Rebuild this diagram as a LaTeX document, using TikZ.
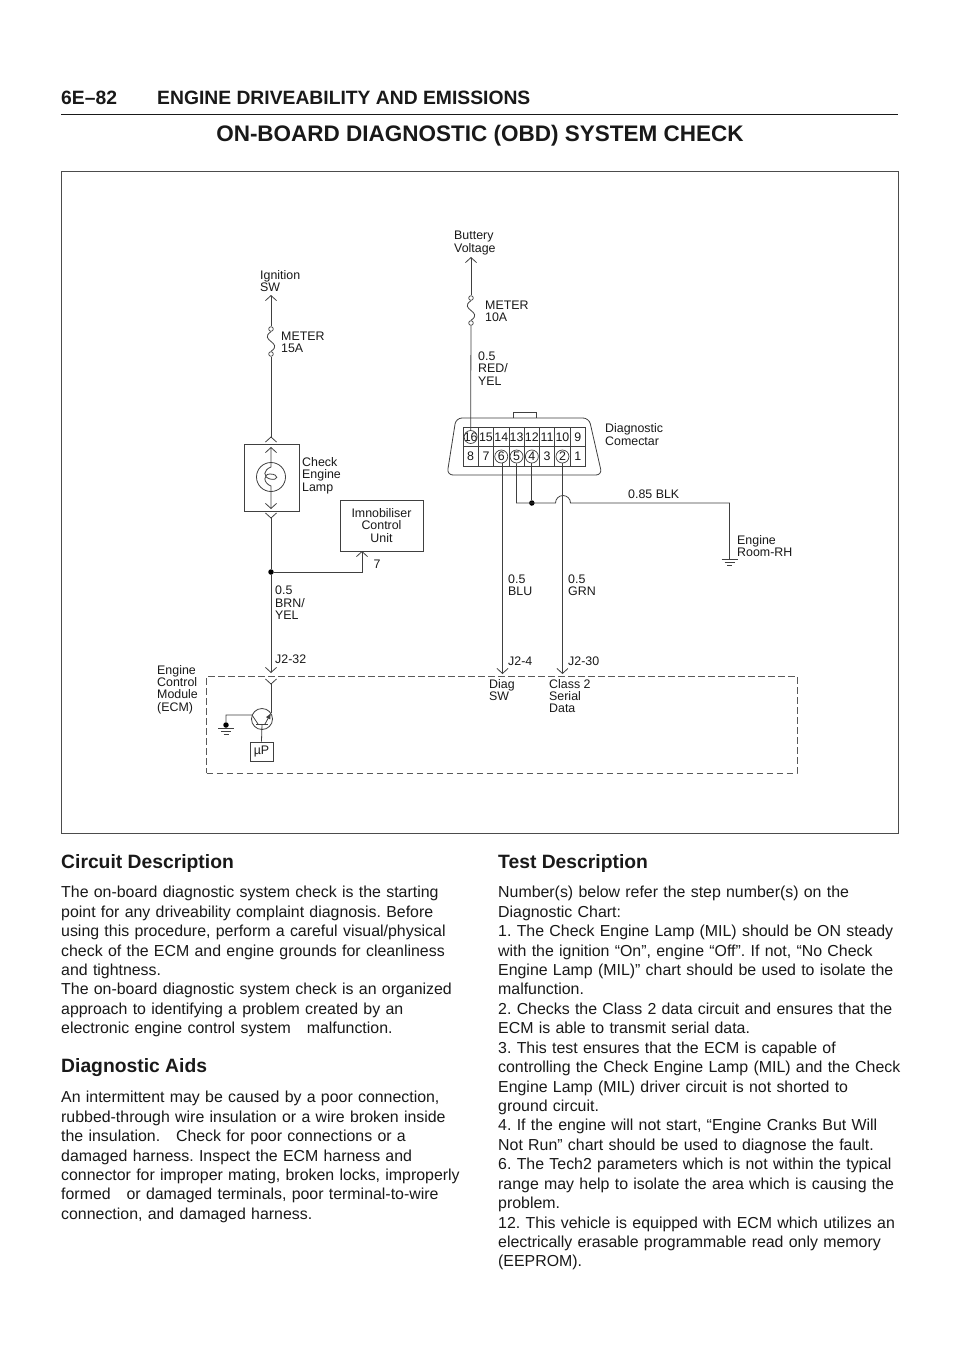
\documentclass[tikz,border=0pt]{standalone}
\usepackage{fontspec}
\setmainfont{Liberation Sans}
\usetikzlibrary{arrows.meta,shapes.geometric}
\newcommand{\jl}[1]{\makebox[\hsize][s]{#1}}
\tikzset{
    wire/.style={line width=0.8pt,draw=black!75},
    tipend/.style={wire,-{Straight Barb[length=5pt,width=11pt]}},
    tipboth/.style={wire,{Straight Barb[length=5pt,width=11pt]}-{Straight Barb[length=5pt,width=11pt]}},
    lbl/.style={anchor=west,align=left,inner sep=0pt,text=black!90,font=\fontsize{12.4}{12.4}\selectfont},
    centrelbl/.style={lbl,anchor=center,align=center},
    unitbox/.style={draw=black!75,line width=0.8pt,inner sep=0pt},
    pincell/.style={unitbox,minimum width=15.3pt,minimum height=19.5pt,font=\fontsize{12.4}{12.4}\selectfont,text=black!90},
    pinring/.style={circle,draw=black!75,line width=0.7pt,minimum size=13pt,inner sep=0pt},
    fuseend/.style={circle,draw=black!75,line width=0.7pt,fill=white,minimum size=4.6pt,inner sep=0pt},
    joint/.style={circle,fill=black,minimum size=5.5pt,inner sep=0pt},
    headline/.style={anchor=west,inner sep=0pt,font=\bfseries\fontsize{19.3}{22}\selectfont,text=black!90},
    bodytext/.style={anchor=north west,align=left,inner sep=0pt,text width=398pt,text=black!90,font=\fontsize{15.9}{19.43}\selectfont\frenchspacing},
    ground/.pic={\draw[wire,line width=0.6pt] (-8,0) -- (8,0) (-5,3.5) -- (5,3.5) (-2.5,6.5) -- (2.5,6.5);},
    chevup/.pic={\draw[wire] (-5.5,5) -- (0,0) -- (5.5,5);},
    chevdown/.pic={\draw[wire] (-5.5,-5) -- (0,0) -- (5.5,-5);}
}
\begin{document}
\begin{tikzpicture}[x=1pt,y=-1pt]
    \useasboundingbox[fill=white] (0,0) rectangle (960,1358);
    \node[headline] (pagenum) at (61,97.5) {6E–82};
    \node[headline] (pagehead) at (157,97.5) {ENGINE DRIVEABILITY AND EMISSIONS};
    \draw[line width=1.4pt,black!90] (61,114.5) -- (898,114.5);
    \node[font=\bfseries\fontsize{22.5}{26}\selectfont,text=black!90,inner sep=0pt] (title) at (480,136) {ON-BOARD DIAGNOSTIC (OBD) SYSTEM CHECK};
    \draw[line width=0.9pt,black!70] (61,171.5) rectangle (898,833);

    \node[lbl] (ignlbl) at (260,281) {Ignition\\SW};
    \coordinate (igntip) at (271,295);
    \node[fuseend] (ignfusea) at (271,329) {};
    \node[fuseend] (ignfuseb) at (271,354) {};
    \node[lbl] (ignfuselbl) at (281,342) {METER\\15A};
    \coordinate (lampin) at (271,437);
    \draw[tipend] (ignfusea) -- (igntip);
    \draw[wire] (ignfusea.south) .. controls +(-13,9) and +(13,-9) .. (ignfuseb.north);
    \draw[wire] (ignfuseb) -- (lampin);
    \pic at (lampin) {chevup};

    \node[unitbox,minimum width=55pt,minimum height=67pt] (lampbox) at (271.5,477.5) {};
    \node[circle,draw=black!75,line width=0.8pt,minimum size=29pt,inner sep=0pt] (lamp) at (271,477) {};
    \coordinate (lamptop) at (271,447);
    \coordinate (lampbot) at (271,509);
    \draw[tipboth] (lamptop) -- (271,467) .. controls (263,470) and (263,477) .. (270,479) .. controls (279,481) and (279,474) .. (270,474) .. controls (263,474) and (263,483) .. (271,486) -- (lampbot);
    \node[lbl] (lamplbl) at (302,475.5) {Check\\Engine\\Lamp};

    \node[unitbox,minimum width=83pt,minimum height=51pt] (immo) at (381.5,525.5) {};
    \node[centrelbl] (immolbl) at (immo) {Imnobiliser\\Control\\Unit};
    \node[lbl] (immopin) at (373.5,564.5) {7};
    \node[joint] (ecmjoint) at (271,572) {};
    \coordinate (lampout) at (271,518);
    \coordinate (ecmin) at (271,673);
    \coordinate (ecmtop) at (271,684);
    \draw[wire] (ecmjoint) -- (lampout);
    \pic at (lampout) {chevdown};
    \draw[tipend] (ecmjoint) -- (ecmin);
    \draw[tipend] (ecmjoint) -| (362,551);
    \node[lbl] (brnlbl) at (275,603) {0.5\\BRN/\\YEL};
    \node[lbl] (j232) at (275,659) {J2-32};

    \node[draw=black!65,line width=0.8pt,dash pattern=on 6.5pt off 3.5pt,minimum width=590.5pt,minimum height=97pt,inner sep=0pt] (ecm) at (501.75,724.5) {};
    \node[lbl] (ecmlbl) at (157,689.5) {Engine\\Control\\Module\\(ECM)};
    \node[circle,draw=black!75,line width=0.8pt,minimum size=21pt,inner sep=0pt] (trans) at (262,719) {};
    \node[unitbox,minimum width=23pt,minimum height=19pt,font=\fontsize{12.4}{12.4}\selectfont,text=black!90] (micro) at (261.5,751.5) {µP};
    \node[joint] (transgnd) at (226,725) {};
    \coordinate (gndecm) at (226,728);
    \coordinate (transout) at (271,713);
    \draw[wire] (transout) -- (ecmtop);
    \pic at (ecmtop) {chevdown};
    \draw[wire] (256,724) -- (268,724);
    \draw[wire] (micro.north) -- (262,724);
    \draw[wire] (transgnd) |- (252,715) -- (258,724);
    \draw[wire,-{Latex[length=6pt,width=5pt]}] (265,724) -- (271,713);
    \draw[wire] (transgnd) -- (gndecm);
    \pic at (gndecm) {ground};

    \node[lbl] (batlbl) at (454,243) {Buttery\\Voltage};
    \coordinate (battip) at (471,257);
    \node[fuseend] (batfusea) at (471,298) {};
    \node[fuseend] (batfuseb) at (471,323) {};
    \node[lbl] (batfuselbl) at (485,311) {METER\\10A};
    \draw[tipend] (batfusea) -- (battip);
    \draw[wire] (batfusea.south) .. controls +(-13,9) and +(13,-9) .. (batfuseb.north);
    \node[lbl] (redlbl) at (478,368.5) {0.5\\RED/\\YEL};

    \draw[wire,rounded corners=6pt] (456,418) -- (589,418) -- (602,475) -- (447,475) -- cycle;
    \draw[wire] (513,418) |- (536,412) -- (536,418);
    \foreach \n [count=\i from 0] in {16,15,...,9}
        \node[pincell] (p\n) at ({470.65+15.3*\i},437) {\n};
    \foreach \n [count=\i from 0] in {8,7,...,1}
        \node[pincell] (p\n) at ({470.65+15.3*\i},456.5) {\n};
    \foreach \n in {16,6,5,4,2}
        \node[pinring] (r\n) at (p\n) {};
    \draw[wire] (batfuseb) -- (r16.north);
    \node[lbl] (conlbl) at (605,434.5) {Diagnostic\\Comectar};

    \coordinate (gndroom) at (729.5,559);
    \coordinate (hopa) at (555.5,503);
    \node[joint] (blkjoint) at (r4 |- hopa) {};
    \draw[wire] (r4.south) -- (blkjoint);
    \draw[wire] (r5.south) |- (hopa) arc[start angle=180,end angle=360,radius=7.5] -| (gndroom);
    \pic at (gndroom) {ground};
    \node[lbl] (blklbl) at (628,494) {0.85 BLK};
    \node[lbl] (roomlbl) at (737,546) {Engine\\Room-RH};

    \coordinate (diagtip) at (502.5,674);
    \coordinate (serialtip) at (r2 |- diagtip);
    \draw[tipend] (r6.south -| diagtip) -- (diagtip);
    \draw[tipend] (r2.south) -- (serialtip);
    \node[lbl] (blulbl) at (508,585.5) {0.5\\BLU};
    \node[lbl] (grnlbl) at (568,585.5) {0.5\\GRN};
    \node[lbl] (j24) at (508,661) {J2-4};
    \node[lbl] (j230) at (568,661) {J2-30};
    \node[lbl] (diaglbl) at (489,690) {Diag\\SW};
    \node[lbl] (serlbl) at (549,696) {Class 2\\Serial\\Data};

    \node[headline] (circhead) at (61,863) {Circuit Description};
    \node[bodytext] (circbody) at (61,886) {%
        \jl{The on-board diagnostic system check is the starting}\\
        \jl{point for any driveability complaint diagnosis. Before}\\
        \jl{using this procedure, perform a careful visual/physical}\\
        \jl{check of the ECM and engine grounds for cleanliness}\\
        and tightness.\\
        \jl{The on-board diagnostic system check is an organized}\\
        \jl{approach to identifying a problem created by an}\\
        electronic engine control system\ \ \ malfunction.};
    \node[headline] (aidshead) at (61,1068) {Diagnostic Aids};
    \node[bodytext] (aidsbody) at (61,1091) {%
        \jl{An intermittent may be caused by a poor connection,}\\
        \jl{rubbed-through wire insulation or a wire broken inside}\\
        \jl{the insulation.\ \ \ Check for poor connections or a}\\
        \jl{damaged harness. Inspect the ECM harness and}\\
        \jl{connector for improper mating, broken locks, improperly}\\
        \jl{formed\ \ \ or damaged terminals, poor terminal-to-wire}\\
        connection, and damaged harness.};
    \node[headline] (testhead) at (498,863) {Test Description};
    \node[bodytext,text width=400pt] (testbody) at (498,886) {%
        \jl{Number(s) below refer the step number(s) on the}\\
        Diagnostic Chart:\\
        \jl{1. The Check Engine Lamp (MIL) should be ON steady}\\
        \jl{with the ignition “On”, engine “Off”. If not, “No Check}\\
        \jl{Engine Lamp (MIL)” chart should be used to isolate the}\\
        malfunction.\\
        \jl{2. Checks the Class 2 data circuit and ensures that the}\\
        ECM is able to transmit serial data.\\
        \jl{3. This test ensures that the ECM is capable of}\\
        \jl{controlling the Check Engine Lamp (MIL) and the Check}\\
        \jl{Engine Lamp (MIL) driver circuit is not shorted to}\\
        ground circuit.\\
        \jl{4. If the engine will not start, “Engine Cranks But Will}\\
        Not Run” chart should be used to diagnose the fault.\\
        \jl{6. The Tech2 parameters which is not within the typical}\\
        \jl{range may help to isolate the area which is causing the}\\
        problem.\\
        \jl{12. This vehicle is equipped with ECM which utilizes an}\\
        \jl{electrically erasable programmable read only memory}\\
        (EEPROM).};
\end{tikzpicture}
\end{document}
